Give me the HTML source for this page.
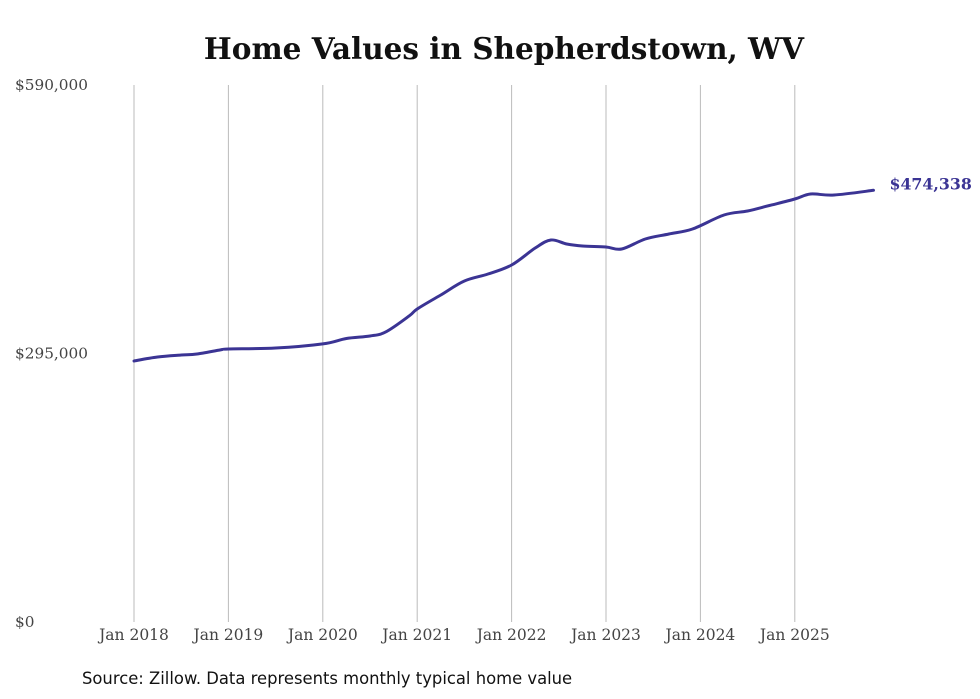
<!DOCTYPE html>
<html><head><meta charset="utf-8">
<style>
html,body{margin:0;padding:0;background:#fff;}
svg{display:block;}
</style></head>
<body>
<svg id="chart" width="980" height="699" viewBox="0 0 980 699" xmlns="http://www.w3.org/2000/svg">
<text x="504" y="59" text-anchor="middle" font-family="'DejaVu Serif','Liberation Serif',serif" font-weight="bold" font-size="29.5" fill="#111">Home Values in Shepherdstown, WV</text>
<g id="grid"></g>
<g id="yaxis"></g>
<g id="xaxis"></g>
<path id="line" fill="none" stroke="#3b3494" stroke-width="3" stroke-linejoin="round" stroke-linecap="round"></path>
<text id="endlabel" font-family="'DejaVu Serif','Liberation Serif',serif" font-weight="bold" font-size="15.8" fill="#3b3494"></text>
<text x="82" y="684" font-family="'DejaVu Sans','Liberation Sans',sans-serif" font-size="16.4" fill="#111">Source: Zillow. Data represents monthly typical home value</text>
</svg>
<script>
const months = [0,3,6,8,11,12,18,24,27,30,32,35,36,39,42,45,48,51,53,55,57,60,62,65,68,71,75,78,81,84,86,89,94];
const values = [286800,291200,293300,294400,299000,299900,301000,305500,311500,314200,318700,336400,343900,359300,374700,382300,392200,410900,419700,415300,413100,412000,409800,420800,426300,431800,447200,451600,458100,464700,470200,469100,474338];
const yTicks = [0,295000,590000];
const yTickLabels = ["$0","$295,000","$590,000"];
const xYears = [2018,2019,2020,2021,2022,2023,2024,2025];
const xLabels = ["Jan 2018","Jan 2019","Jan 2020","Jan 2021","Jan 2022","Jan 2023","Jan 2024","Jan 2025"];

const NS="http://www.w3.org/2000/svg";
const y0=622, y1=85, yMax=590000;
const x0=134, perYear=94.4;
const X = m => x0 + m/12*perYear;
const Y = v => y0 - v/yMax*(y0-y1);

const grid=document.getElementById('grid'), yaxis=document.getElementById('yaxis'), xaxis=document.getElementById('xaxis');
xYears.forEach((yr,i)=>{
  const x=X((yr-2018)*12);
  const l=document.createElementNS(NS,'line');
  
  
  l.setAttribute('x1',x);l.setAttribute('x2',x);l.setAttribute('y1',y1);l.setAttribute('y2',y0);
  l.setAttribute('stroke','#bbb');l.setAttribute('stroke-width','1');
  grid.appendChild(l);
  const t=document.createElementNS(NS,'text');
  
  
  t.setAttribute('x',x);t.setAttribute('y',640);t.setAttribute('text-anchor','middle');
  t.setAttribute('font-family',"'DejaVu Serif','Liberation Serif',serif");t.setAttribute('font-size','15.5');t.setAttribute('fill','#444');
  t.textContent=xLabels[i];
  xaxis.appendChild(t);
});
yTicks.forEach((v,i)=>{
  const t=document.createElementNS(NS,'text');
  
  
  t.setAttribute('x',15);t.setAttribute('y',Y(v)+5);
  t.setAttribute('font-family',"'DejaVu Serif','Liberation Serif',serif");t.setAttribute('font-size','15.3');t.setAttribute('fill','#444');
  t.textContent=yTickLabels[i];
  yaxis.appendChild(t);
});
const pts=months.map((m,i)=>[X(m),Y(values[i])]);
let d='M'+pts[0][0].toFixed(1)+','+pts[0][1].toFixed(1);
for(let i=0;i<pts.length-1;i++){
  const p0=pts[i-1]||pts[i],p1=pts[i],p2=pts[i+1],p3=pts[i+2]||p2;
  const c1=[p1[0]+(p2[0]-p0[0])/6,p1[1]+(p2[1]-p0[1])/6];
  const c2=[p2[0]-(p3[0]-p1[0])/6,p2[1]-(p3[1]-p1[1])/6];
  d+=' C'+c1.map(n=>n.toFixed(1))+' '+c2.map(n=>n.toFixed(1))+' '+p2.map(n=>n.toFixed(1));
}
document.getElementById('line').setAttribute('d',d);
const last=pts[pts.length-1];
const el=document.getElementById('endlabel');
el.setAttribute('x',last[0]+16);el.setAttribute('y',last[1]-1);
el.textContent='$'+values[values.length-1].toLocaleString('en-US');
</script>
</body></html>
